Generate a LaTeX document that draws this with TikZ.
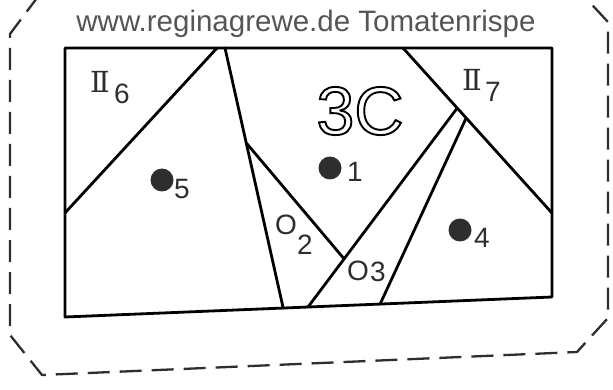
\documentclass[tikz,border=0pt]{standalone}
\usepackage{fontspec}
\setmainfont{Liberation Sans}
\newfontfamily\romfont{DejaVu Serif}
\usetikzlibrary{calc,positioning}
\definecolor{ink}{HTML}{2E2E2E}
\definecolor{seam}{HTML}{2E2E2E}
\definecolor{hand}{HTML}{555555}
\newcommand\hollow[1]{\special{pdf:literal 1 Tr 1.9 w}#1\special{pdf:literal 0 Tr}}
\tikzset{
  cut/.style={line width=2.8pt,black,line cap=round,line join=round},
  dot/.style={circle,fill=ink,minimum size=23pt,inner sep=0pt},
  num/.style={text=ink,inner sep=0pt,font=\fontsize{28}{28}\selectfont},
  rom/.style={text=ink,inner sep=0pt,font=\romfont\fontsize{29}{29}\selectfont},
}
\begin{document}
\begin{tikzpicture}[x=1pt,y=-1pt]
  \useasboundingbox (0,0) rectangle (613,390);
  % seam allowance
  \draw[seam,line width=2.3pt,dash pattern=on 22pt off 10pt]
    (40,-6) -- (10,34) -- (10,335) -- (42,375) -- (577,352) -- (608,318) -- (608,22) -- (582,-6);
  \node[text=hand,font=\fontsize{29.5}{30}\selectfont] (title) at (306,24) {www.reginagrewe.de Tomatenrispe};
  % block outline
  \coordinate (tl) at (65,48);
  \coordinate (tr) at (552,48);
  \coordinate (br) at (552,297);
  \coordinate (bl) at (65,317);
  \draw[cut] (tl) -- (tr) -- (br) -- (bl) -- cycle;
  % seams
  \coordinate (a1) at (217,48);
  \coordinate (a2) at ($(tl)!0.613!(bl)$);
  \coordinate (b1) at (225,48);
  \coordinate (b2) at ($(bl)!0.448!(br)$);
  \coordinate (d1) at (403,48);
  \coordinate (d2) at ($(tr)!0.663!(br)$);
  \coordinate (e1) at ($(d1)!0.364!(d2)$);
  \coordinate (e2) at ($(bl)!0.499!(br)$);
  \coordinate (f1) at ($(d1)!0.424!(d2)$);
  \coordinate (f2) at ($(bl)!0.647!(br)$);
  \coordinate (c1) at ($(b1)!0.365!(b2)$);
  \coordinate (c2) at ($(e1)!0.758!(e2)$);
  \draw[cut] (a1) -- (a2);
  \draw[cut] (b1) -- (b2);
  \draw[cut] (c1) -- (c2);
  \draw[cut] (d1) -- (d2);
  \draw[cut] (e1) -- (e2);
  \draw[cut] (f1) -- (f2);
  % labels
  \node[rom] (r6) at (100,82) {Ⅱ};
  \node[num] (n6) at (122,94) {6};
  \node[rom] (r7) at (472,80) {Ⅱ};
  \node[num] (n7) at (493,92) {7};
  \node[text=black,font=\fontsize{68}{68}\selectfont,inner sep=0pt] (block) at (360,111) {\hollow{3C}};
  \node[dot] (p1) at (330,168) {};
  \node[num] (n1) at (355,172) {1};
  \node[num] (o2) at (286,225) {O};
  \node[num] (n2) at (305,245) {2};
  \node[num] (o3) at (358,271) {O};
  \node[num] (n3) at (378,272) {3};
  \node[dot] (p4) at (460,230) {};
  \node[num] (n4) at (482,238) {4};
  \node[dot] (p5) at (162,180) {};
  \node[num] (n5) at (182,189) {5};
\end{tikzpicture}
\end{document}
